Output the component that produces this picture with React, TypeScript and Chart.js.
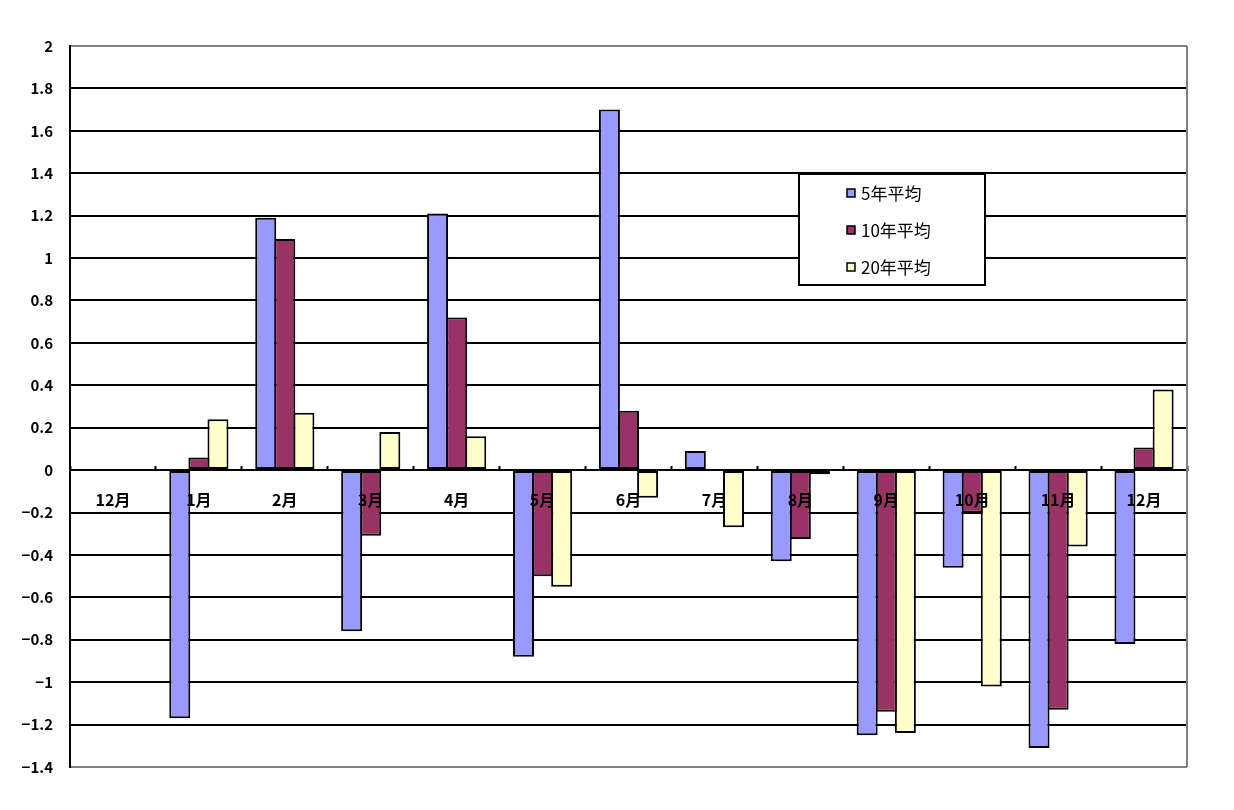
import React, { useEffect, useRef } from "react";
import { Chart, registerables } from "chart.js";

Chart.register(...registerables);

const categories = ["12月", "1月", "2月", "3月", "4月", "5月", "6月", "7月", "8月", "9月", "10月", "11月", "12月"];
const seriesNames = ["5年平均", "10年平均", "20年平均"];
const avg5 = [null, -1.17, 1.19, -0.76, 1.21, -0.88, 1.7, 0.09, -0.43, -1.25, -0.46, -1.31, -0.82];
const avg10 = [null, 0.06, 1.09, -0.31, 0.72, -0.5, 0.28, 0.005, -0.325, -1.14, -0.2, -1.13, 0.107];
const avg20 = [null, 0.24, 0.27, 0.18, 0.16, -0.55, -0.13, -0.27, -0.02, -1.24, -1.02, -0.36, 0.38];
const seriesColors = ["#9999FF", "#993366", "#FFFFCC"];
const yMin = -1.4;
const yMax = 2;
const yStep = 0.2;

const FONT = '"MS PGothic", "Noto Sans CJK JP", "DejaVu Sans", sans-serif';

const legendPlugin = {
  id: "boxLegend",
  afterDraw(chart: any) {
    const ctx = chart.ctx;
    const { top, bottom, right } = chart.chartArea;
    ctx.save();
    // right border (gray)
    ctx.strokeStyle = "#808080";
    ctx.lineWidth = 2;
    ctx.beginPath();
    ctx.moveTo(right, top);
    ctx.lineTo(right, bottom);
    ctx.stroke();

    // legend box
    const bx = 799, by = 174, bw = 186, bh = 111;
    ctx.fillStyle = "#ffffff";
    ctx.fillRect(bx, by, bw, bh);
    ctx.strokeStyle = "#000000";
    ctx.lineWidth = 2;
    ctx.strokeRect(bx, by, bw, bh);
    ctx.font = `17px ${FONT}`;
    ctx.textBaseline = "middle";
    ctx.textAlign = "left";
    seriesNames.forEach((name, i) => {
      const cy = 193 + i * 37;
      ctx.fillStyle = seriesColors[i];
      ctx.fillRect(847, cy - 4, 8, 8);
      ctx.strokeStyle = "#000";
      ctx.lineWidth = 1.5;
      ctx.strokeRect(847, cy - 4, 8, 8);
      ctx.fillStyle = "#000";
      ctx.fillText(name, 861, cy + 1);
    });
    ctx.restore();
  },
};

export default function App() {
  const canvasRef = useRef<HTMLCanvasElement | null>(null);

  useEffect(() => {
    if (!canvasRef.current) return;
    const datasets = [avg5, avg10, avg20].map((d, i) => ({
      label: seriesNames[i],
      data: d,
      backgroundColor: seriesColors[i],
      borderColor: "#000000",
      borderWidth: 2,
      borderSkipped: false as any,
      barPercentage: 1.1,
      categoryPercentage: 3 / 4.5,
    }));
    const chart = new Chart(canvasRef.current, {
      type: "bar",
      data: { labels: categories, datasets },
      plugins: [legendPlugin],
      options: {
        animation: false,
        responsive: true,
        maintainAspectRatio: false,
        layout: { padding: { left: 0, right: 47, top: 46, bottom: 43 } },
        plugins: { legend: { display: false }, tooltip: { enabled: false } },
        scales: {
          x: {
            position: { y: 0 } as any,
            offset: true,
            z: 1,
            grid: {
              offset: true,
              drawOnChartArea: false,
              drawTicks: true,
              tickLength: -5,
              tickWidth: 2,
              tickColor: "#000",
              z: 1,
            } as any,
            border: { display: true, color: "#000", width: 2, z: 1 } as any,
            ticks: {
              color: "#000",
              padding: 25,
              maxRotation: 0,
              autoSkip: false,
              z: 1,
              font: { family: FONT, size: 16, weight: "bold" },
            } as any,
          },
          y: {
            min: yMin,
            max: yMax,
            afterFit(scale: any) {
              scale.width = 70;
            },
            grid: {
              drawTicks: false,
              lineWidth: 2,
              color: (c: any) => {
                const v = c.tick ? c.tick.value : 0;
                if (Math.abs(v - yMax) < 1e-6 || Math.abs(v - yMin) < 1e-6) return "#808080";
                return "#000000";
              },
            },
            border: { display: true, color: "#000", width: 2 },
            ticks: {
              stepSize: yStep,
              padding: 17,
              color: "#000",
              font: { family: FONT, size: 15, weight: "bold" },
              callback: (v: any) => {
                const n = Math.round(Number(v) * 10) / 10;
                return n < 0 ? "\u2212" + String(Math.abs(n)) : String(n);
              },
            },
          },
        },
      },
    });
    return () => chart.destroy();
  }, []);

  return (
    <div style={{ position: "fixed", left: 0, top: 0, width: 1234, height: 810, background: "#fff" }}>
      <canvas ref={canvasRef} width={1234} height={810} />
    </div>
  );
}
